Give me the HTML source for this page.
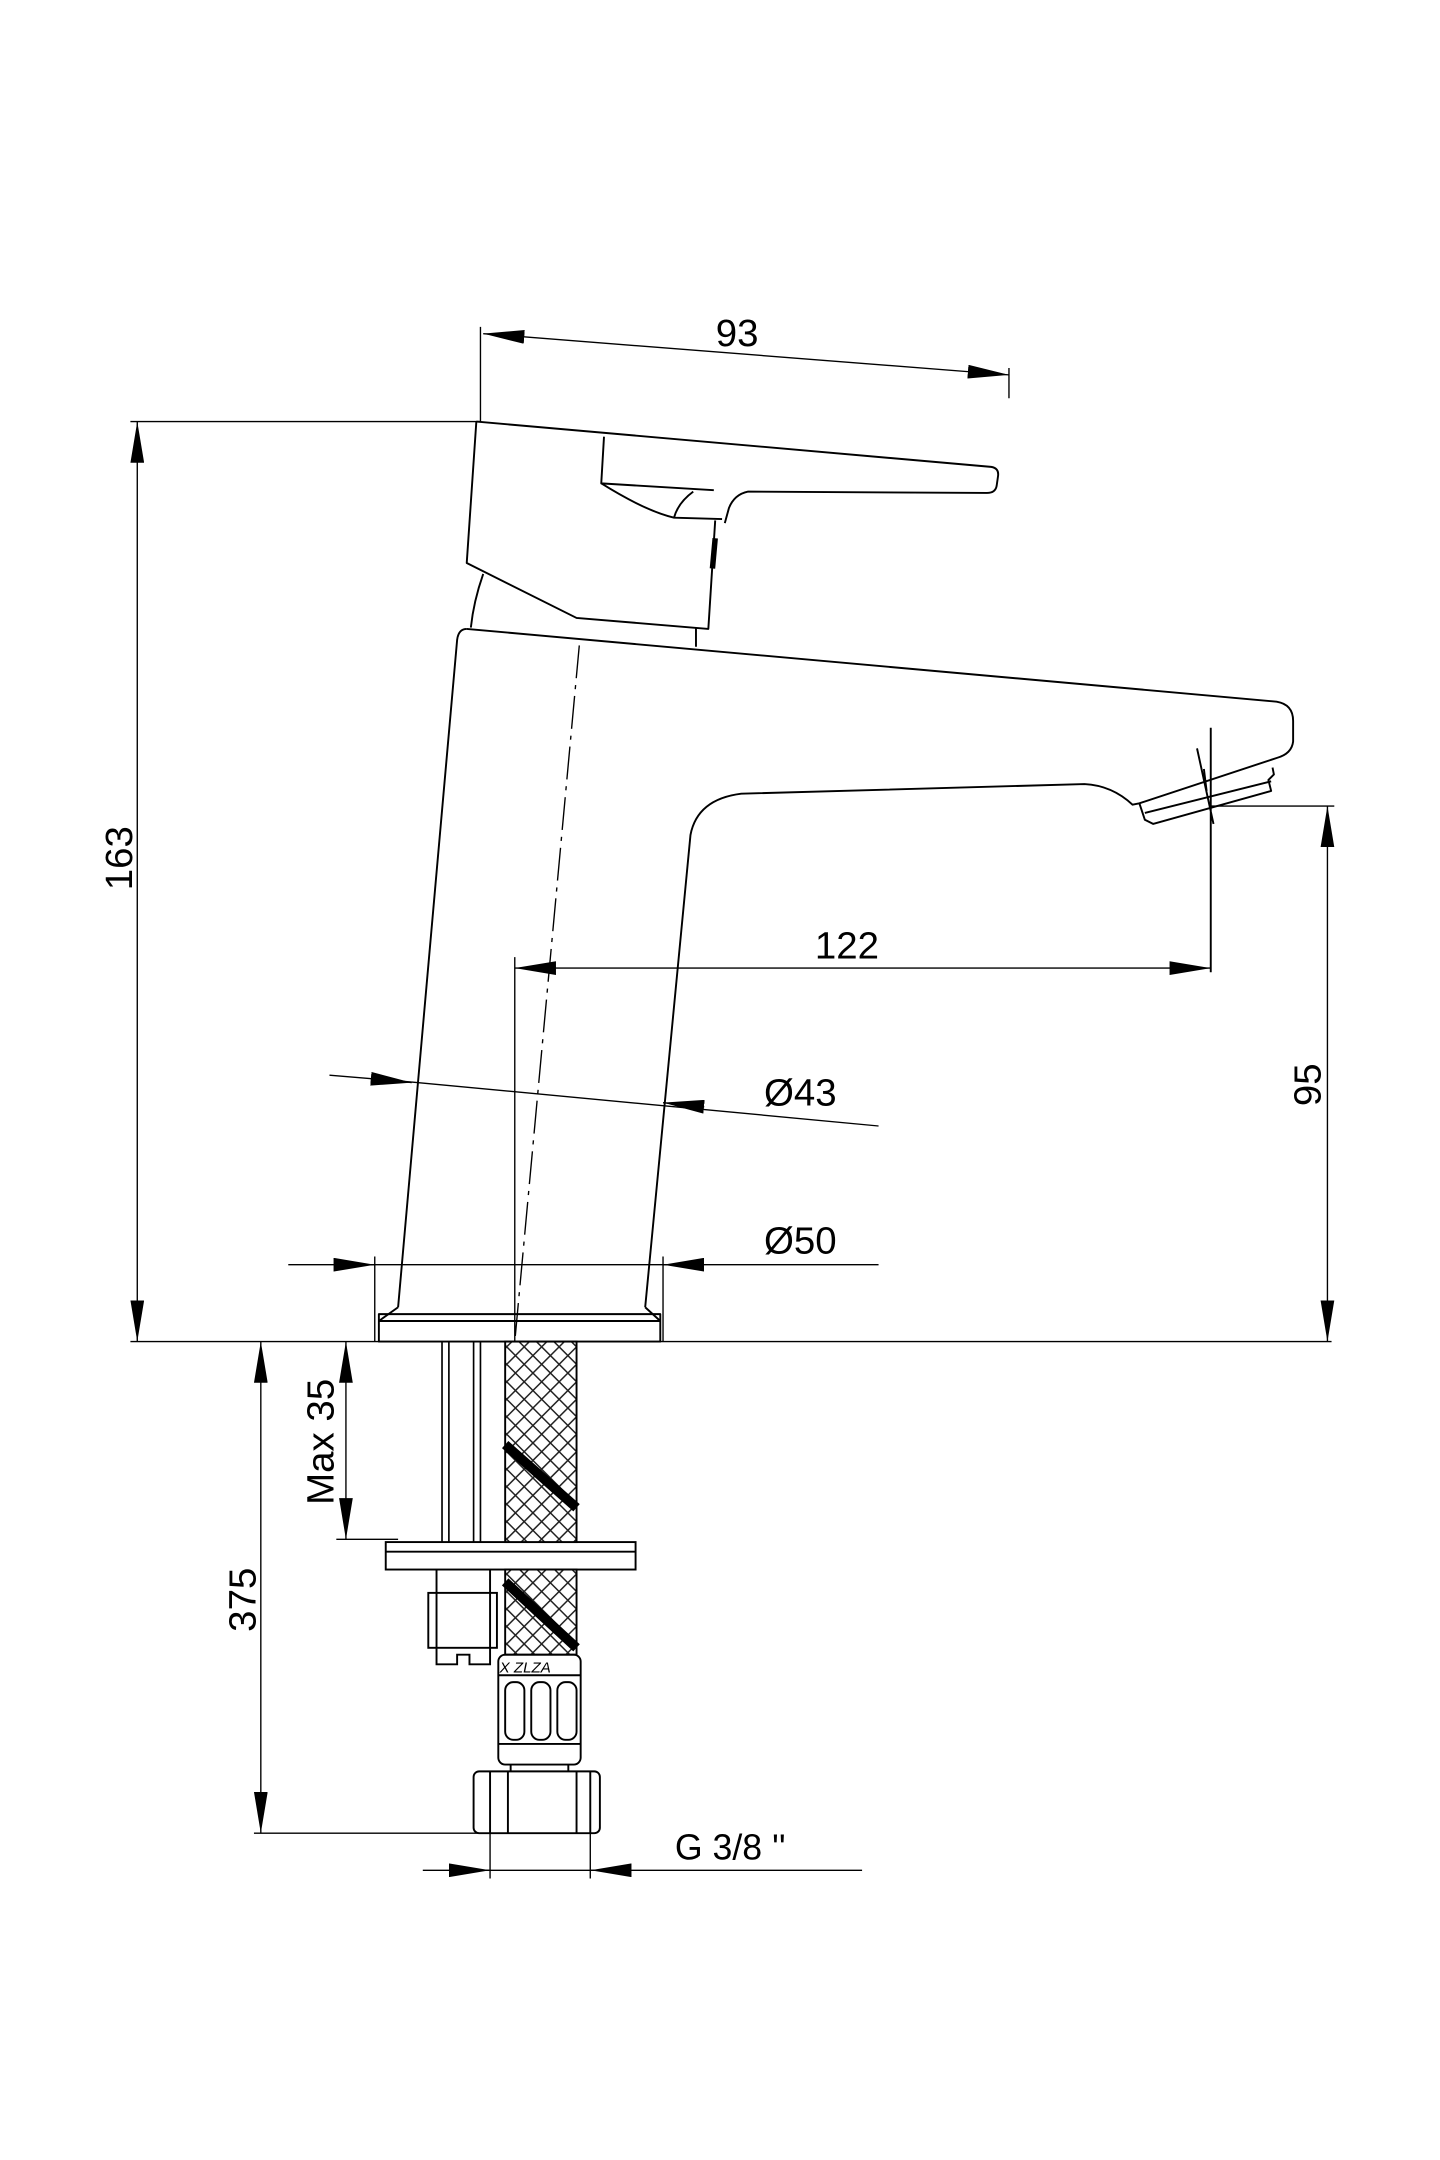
<!DOCTYPE html>
<html><head><meta charset="utf-8"><style>html,body{margin:0;padding:0;background:#fff}svg{display:block}</style></head>
<body>
<svg width="1440" height="2160" viewBox="0 0 1049 1573" preserveAspectRatio="none" xmlns="http://www.w3.org/2000/svg">
<defs>
<marker id="a" viewBox="0 0 30 10" refX="30" refY="5" markerWidth="30" markerHeight="10" markerUnits="userSpaceOnUse" orient="auto-start-reverse"><path d="M0,0 L30,5 L0,10 z" fill="#000"/></marker>
<pattern id="h" width="9" height="9" patternUnits="userSpaceOnUse" patternTransform="rotate(45)"><rect width="9" height="9" fill="#fff"/><path d="M0,0H9M0,0V9" stroke="#222" stroke-width="2.2"/></pattern>
</defs>
<rect width="1049" height="1573" fill="#fff"/>
<g fill="none" stroke="#000" stroke-width="1.4" stroke-linejoin="round">
<!-- lever -->
<path d="M347,307 L722,340 Q728,341 727,347 L726,354 Q725,359 719,359 L545,358 Q535,360 531,370 L528,381"/>
<path d="M440,318 L438,352 L520,357"/>
<path d="M438,352 Q470,372 491,377 L526,378"/>
<path d="M491,377 Q494,366 505,358"/>
<path d="M347,307 L340,410 L420,450 L516,458 L521,379"/>
<path d="M352,418 Q345,438 343,457"/>
<path d="M507,457 L507,471"/>
<path d="M521,392 l-2,22" stroke-width="4"/>
<!-- spout and body -->
<path d="M340,458 L930,511 Q942,513 942,525 L942,540 Q941,549 930,552 L830,585 L825,586 Q810,572 790,571 L540,578 Q508,582 503,608 L470,952"/>
<path d="M340,458 Q334,458 333,466 L290,952"/>
<rect x="276" y="957" width="205" height="20"/>
<path d="M290,952 L276,962 M470,952 L481,962 M276,962 H481"/>
<!-- aerator -->
<path d="M830,585 L834,597 L840,600 L926,576 L924,568 L928,564 L927,559"/>
<path d="M834,592 L926,569"/>
<path d="M877,560 L879,576 M872,545 L884,600 M882,530 V708"/>
<!-- centerline -->
<path d="M422,470 L375,977" stroke-width="1" stroke-dasharray="24,5,3,5"/>
</g>
<g fill="none" stroke="#000" stroke-width="1">
<!-- base -->
<path d="M95,977 H970"/>
<!-- 93 -->
<path d="M350,238 V307 M735,268 V290 M95,307 H350"/>
<path d="M352,243 L735,273" marker-start="url(#a)" marker-end="url(#a)"/>
<!-- 163 -->
<path d="M100,307 V977" marker-start="url(#a)" marker-end="url(#a)"/>
<!-- 95 -->
<path d="M882,587 H972"/>
<path d="M967,587 V977" marker-start="url(#a)" marker-end="url(#a)"/>
<!-- 122 -->
<path d="M375,697 V977"/>
<path d="M375,705 H882" marker-start="url(#a)" marker-end="url(#a)"/>
<!-- Ø43 -->
<path d="M240,783 L300,788"/>
<path d="M270,785.6 L300,788.4" marker-end="url(#a)"/>
<path d="M300,788 L640,820"/>
<path d="M513,806 L483,803" marker-end="url(#a)"/>
<!-- Ø50 -->
<path d="M210,921 H640 M273,915 V977 M483,915 V977"/>
<path d="M243,921 H273" marker-end="url(#a)"/>
<path d="M513,921 H483" marker-end="url(#a)"/>
<!-- 375 -->
<path d="M185,1335 H350"/>
<path d="M190,977 V1335" marker-start="url(#a)" marker-end="url(#a)"/>
<!-- Max 35 -->
<path d="M245,1121 H290"/>
<path d="M252,977 V1121" marker-start="url(#a)" marker-end="url(#a)"/>
<!-- G 3/8 -->
<path d="M308,1362 H628 M357,1335 V1368 M430,1335 V1368"/>
<path d="M327,1362 H357" marker-end="url(#a)"/>
<path d="M460,1362 H430" marker-end="url(#a)"/>
</g>
<!-- under counter parts -->
<g fill="none" stroke="#000" stroke-width="1.4">
<path d="M322,977 V1123 M327,977 V1123 M345,977 V1123 M350,977 V1123" stroke-width="1.2"/>
<rect x="281" y="1123" width="182" height="20" fill="#fff"/>
<path d="M281,1130 H463"/>
<rect x="368" y="977" width="52" height="146" fill="url(#h)"/>
<rect x="368" y="1143" width="52" height="62" fill="url(#h)"/>
<path d="M368,1052 L420,1098 M368,1152 L420,1200" stroke-width="7"/>
<path d="M318,1143 V1160 M357,1143 V1160"/>
<rect x="312" y="1160" width="50" height="40"/>
<path d="M318,1160 V1200 M357,1160 V1200"/>
<path d="M318,1200 V1212 H333 V1205 H342 V1212 H357 V1200"/>
<rect x="363" y="1205" width="60" height="80" rx="5"/>
<path d="M363,1220 H423 M363,1270 H423"/>
<rect x="368" y="1225" width="14" height="42" rx="6"/>
<rect x="387" y="1225" width="14" height="42" rx="6"/>
<rect x="406" y="1225" width="14" height="42" rx="6"/>
<path d="M372,1285 V1290 M414,1285 V1290"/>
<rect x="345" y="1290" width="92" height="45" rx="4"/>
<path d="M357,1290 V1335 M370,1290 V1335 M420,1290 V1335 M430,1290 V1335"/>
</g>
<g font-family="Liberation Sans, Arial, sans-serif" fill="#000">
<text x="537" y="252" font-size="28" text-anchor="middle">93</text>
<text x="617" y="698" font-size="28" text-anchor="middle">122</text>
<text x="583" y="805" font-size="28" text-anchor="middle">Ø43</text>
<text x="583" y="913" font-size="28" text-anchor="middle">Ø50</text>
<text transform="translate(96,625) rotate(-90)" font-size="28" text-anchor="middle">163</text>
<text transform="translate(962,790) rotate(-90)" font-size="28" text-anchor="middle">95</text>
<text transform="translate(186,1165) rotate(-90)" font-size="28" text-anchor="middle">375</text>
<text transform="translate(243,1050) rotate(-90)" font-size="28" text-anchor="middle">Max 35</text>
<text x="532" y="1354" font-size="26" text-anchor="middle">G 3/8 ''</text>
<text x="364" y="1218" font-size="11" font-style="italic">X  ZLZA</text>
</g>
</svg>
</body></html>
